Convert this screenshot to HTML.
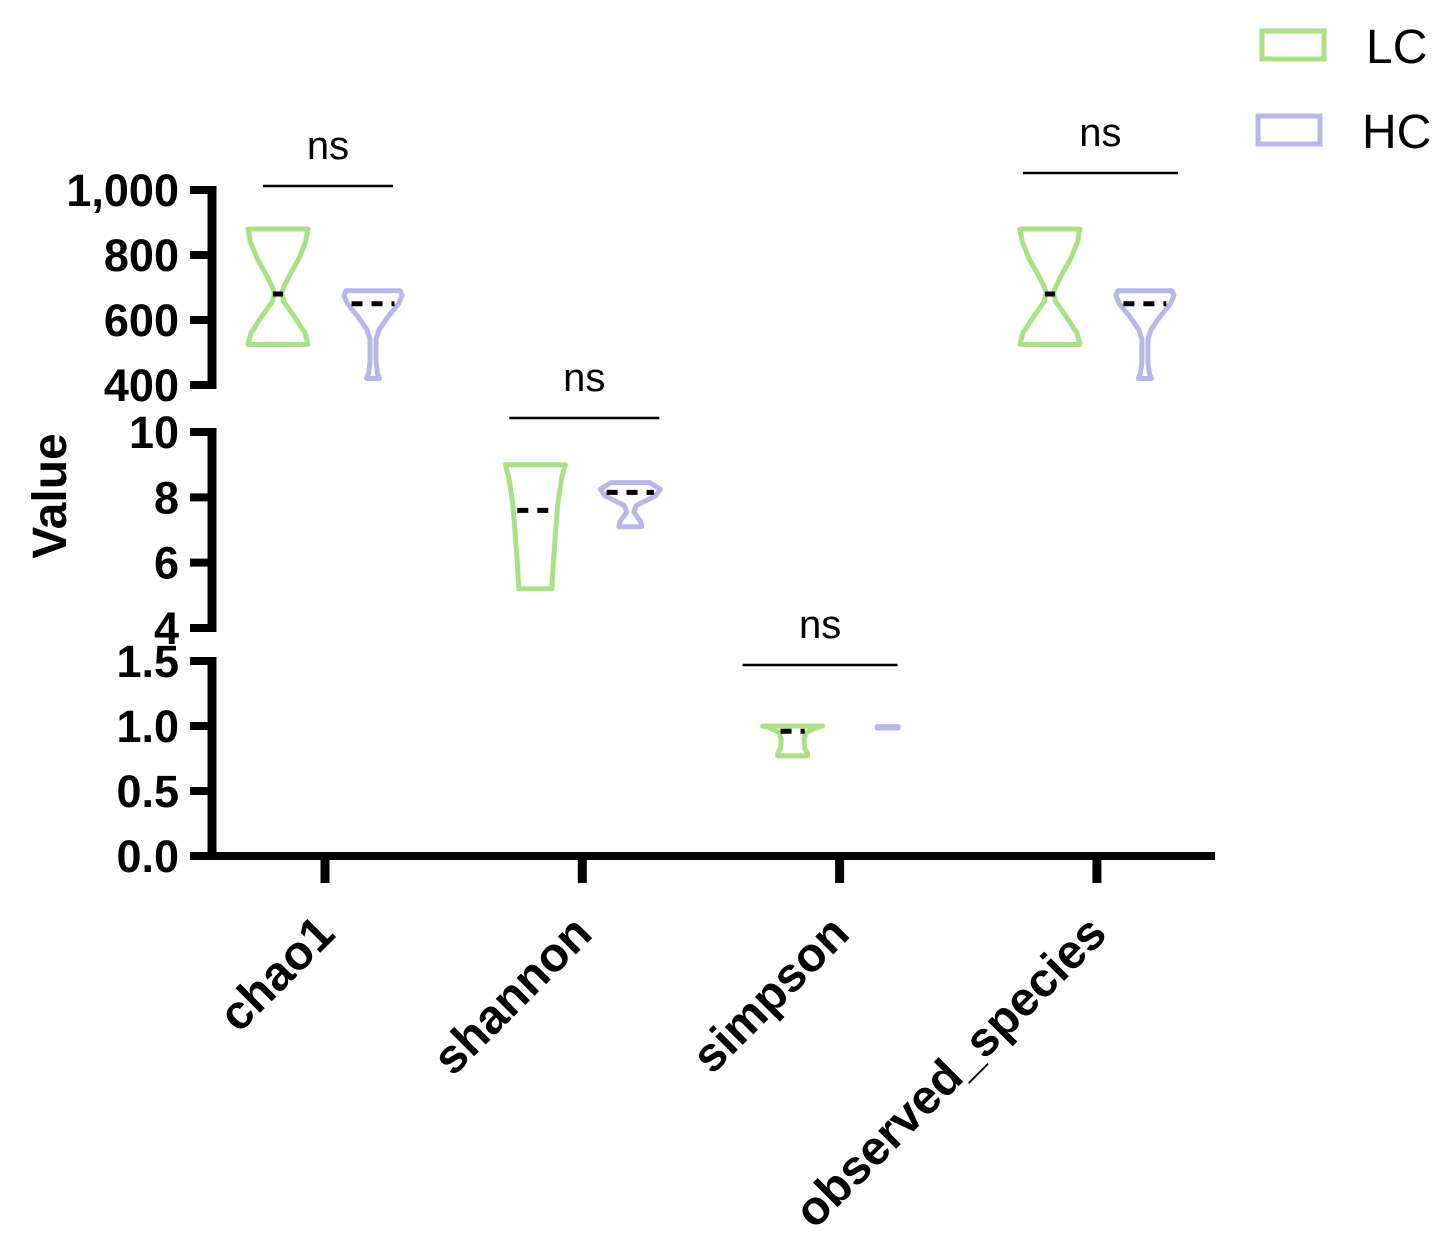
<!DOCTYPE html>
<html><head><meta charset="utf-8"><style>
html,body{margin:0;padding:0;background:#fff;}
svg{display:block;font-family:"Liberation Sans",Arial,sans-serif;}
</style></head><body>
<svg id="chart" width="1440" height="1244" viewBox="0 0 1440 1244" xmlns="http://www.w3.org/2000/svg">
<g id="axes"></g>
<g id="marks"></g>
<g id="legend"></g>
</svg>
<script>
const categories = ["chao1","shannon","simpson","observed_species"];
const groups = ["LC","HC"];
const groupColors = ["#a8e283","#b9b6e8"];
const segTop = [400,1000];
const segMid = [4,10];
const segBot = [0,1.5];
const ticksTop = [400,600,800,1000];
const ticksTopLabels = ["400","600","800","1,000"];
const ticksMid = [4,6,8,10];
const ticksMidLabels = ["4","6","8","10"];
const ticksBot = [0,0.5,1.0,1.5];
const ticksBotLabels = ["0.0","0.5","1.0","1.5"];
const catSegment = ["top","mid","bot","top"];
const profLC = [
 [[880,1],[840,0.92],[790,0.7],[740,0.4],[700,0.18],[680,0.12],[655,0.2],[610,0.55],[560,0.9],[525,1]],
 [[9,1],[8.6,0.88],[7.8,0.75],[7,0.68],[6,0.6],[5.2,0.55]],
 [[1.0,1],[0.985,0.75],[0.95,0.45],[0.9,0.38],[0.83,0.4],[0.79,0.5],[0.77,0.5]],
 [[880,1],[840,0.92],[790,0.7],[740,0.4],[700,0.18],[680,0.12],[655,0.2],[610,0.55],[560,0.9],[525,1]]
];
const profHC = [
 [[690,0.9],[675,0.97],[650,0.85],[610,0.5],[570,0.2],[540,0.1],[470,0.1],[435,0.15],[420,0.22]],
 [[8.45,0.65],[8.25,1],[8.05,0.85],[7.75,0.2],[7.55,0.12],[7.25,0.35],[7.1,0.38]],
 [[0.995,0.35],[0.985,0.35]],
 [[690,0.9],[675,0.97],[650,0.85],[610,0.5],[570,0.2],[540,0.1],[470,0.1],[435,0.15],[420,0.22]]
];
const mediansLC = [680,7.6,0.96,680];
const mediansHC = [650,8.15,null,650];
const sigLabels = ["ns","ns","ns","ns"];

const NS="http://www.w3.org/2000/svg";
function el(tag,attrs,parent){const e=document.createElementNS(NS,tag);for(const k in attrs)e.setAttribute(k,attrs[k]);parent.appendChild(e);return e;}
const segPix = {top:[385,190],mid:[628,432],bot:[856,661]};
const segDom = {top:segTop,mid:segMid,bot:segBot};
function yScale(seg,v){const d=segDom[seg],p=segPix[seg];return p[0]+(v-d[0])/(d[1]-d[0])*(p[1]-p[0]);}
const xStart=325, xStep=257.3;
function xScale(i){return xStart+i*xStep;}
const groupOffset=[-47,48];
const maxHalf=30;
// layout of significance brackets (pixel layout, not data)
const sigLayout = [{y:186,l:-62,r:68},{y:418,l:-73,r:77},{y:665,l:-97,r:58},{y:173,l:-74,r:81}];

const axes=document.getElementById('axes');
const axisX=212;
[["top",ticksTop,ticksTopLabels],["mid",ticksMid,ticksMidLabels],["bot",ticksBot,ticksBotLabels]].forEach(([seg,ticks,labels])=>{
  const yA=yScale(seg,segDom[seg][0]), yB=yScale(seg,segDom[seg][1]);
  const line=el('line',{x1:axisX,x2:axisX,y1:yB-4,y2:yA+4,stroke:'#000','stroke-width':9},axes);
  
  
  ticks.forEach((t,i)=>{
    const y=yScale(seg,t);
    const tk=el('line',{x1:190,x2:axisX,y1:y,y2:y,stroke:'#000','stroke-width':8},axes);
    
    
    const tx=el('text',{x:179,y:y+16,'text-anchor':'end','font-size':45,'font-weight':'bold',fill:'#000'},axes);
    tx.textContent=labels[i];
    
    
  });
});
const xa=el('line',{x1:axisX-4,x2:1215,y1:856,y2:856,stroke:'#000','stroke-width':8},axes);


categories.forEach((c,i)=>{
  const x=xScale(i);
  const tk=el('line',{x1:x,x2:x,y1:856,y2:883,stroke:'#000','stroke-width':9},axes);
  
  
  const ax=x+12, ay=936;
  const tx=el('text',{x:ax,y:ay,'text-anchor':'end','font-size':48,'font-weight':'bold',fill:'#000',transform:`rotate(-45 ${ax} ${ay})`},axes);
  tx.textContent=c;
  
  
});
const yt=el('text',{x:0,y:0,'text-anchor':'middle','font-size':48,'font-weight':'bold',fill:'#000',transform:'translate(66 496) rotate(-90)'},axes);
yt.textContent='Value';



const marks=document.getElementById('marks');
function violinPath(cx,seg,prof){
  const right=prof.map(([v,d])=>[cx+d*maxHalf,yScale(seg,v)]);
  const left=prof.slice().reverse().map(([v,d])=>[cx-d*maxHalf,yScale(seg,v)]);
  const pts=right.concat(left);
  return 'M'+pts.map(p=>p[0].toFixed(1)+','+p[1].toFixed(1)).join(' L')+' Z';
}
categories.forEach((c,i)=>{
  const seg=catSegment[i];
  [profLC,profHC].forEach((profs,g)=>{
    const cx=xScale(i)+groupOffset[g];
    const prof=profs[i];
    const p=el('path',{d:violinPath(cx,seg,prof),fill:'none',stroke:groupColors[g],'stroke-width':5,'stroke-linejoin':'round'},marks);
    if(prof.length===2){p.setAttribute('fill',groupColors[g]);}
    
    
    const med=[mediansLC,mediansHC][g][i];
    if(med!==null){
      let w=prof[0][1];
      for(let k=0;k<prof.length-1;k++){const a=prof[k],b=prof[k+1];if((med<=a[0]&&med>=b[0])){w=a[1]+(b[1]-a[1])*(a[0]-med)/((a[0]-b[0])||1);break;}}
      const hw=Math.max(w*maxHalf-4,5);
      const y=yScale(seg,med);
      const m=el('line',{x1:cx-hw,x2:cx+hw,y1:y,y2:y,stroke:'#000','stroke-width':5,'stroke-dasharray':hw>10?'11,9':'none'},marks);
      
      
    }
  });
  const x=xScale(i), L=sigLayout[i];
  const sl=el('line',{x1:x+L.l,x2:x+L.r,y1:L.y,y2:L.y,stroke:'#000','stroke-width':2.5},marks);
  
  
  const st=el('text',{x:x+(L.l+L.r)/2,y:L.y-27,'text-anchor':'middle','font-size':40,fill:'#000'},marks);
  st.textContent=sigLabels[i];
  
  
});

const legend=document.getElementById('legend');
groups.forEach((gname,g)=>{
  const y=[45,130][g];
  const r=el('rect',{x:[1262,1258][g],y:y-14,width:62,height:28,fill:'none',stroke:groupColors[g],'stroke-width':5},legend);
  
  
  const t=el('text',{x:[1366,1362][g],y:y+18,'font-size':48,fill:'#000'},legend);
  t.textContent=gname;
  
  
});
</script>
</body></html>
